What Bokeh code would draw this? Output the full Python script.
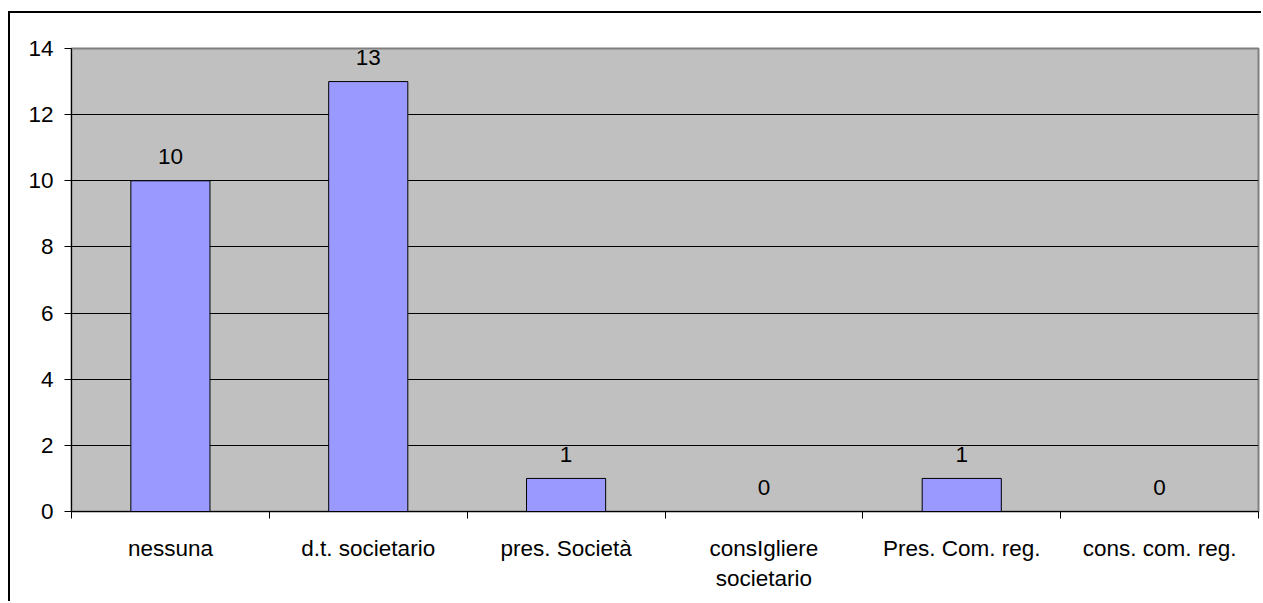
from bokeh.plotting import figure
from bokeh.models import Range1d, FixedTicker, LinearAxis, ColumnDataSource, Grid
from bokeh.embed import file_html
from bokeh.resources import INLINE
from bokeh.core.properties import value

categories = ["nessuna", "d.t. societario", "pres. Società", "consIgliere\nsocietario",
              "Pres. Com. reg.", "cons. com. reg."]
counts = [10, 13, 1, 0, 1, 0]
y_ticks = [0, 2, 4, 6, 8, 10, 12, 14]

FONT = "Liberation Sans"
FS = "22.5px"

pos = [i + 0.5 for i in range(len(categories))]
src = ColumnDataSource(dict(x=pos, top=counts, label=[str(c) for c in counts]))

p = figure(width=1253, height=590, output_backend="svg", toolbar_location=None,
           x_range=Range1d(0, len(categories)), y_range=Range1d(0, 14),
           x_axis_type=None, y_axis_type=None,
           min_border_left=61, min_border_right=5, min_border_top=35, min_border_bottom=92)
p.margin = (11, 0, 0, 8)
p.styles = {"border-left": "2px solid black", "border-top": "2px solid black"}

p.background_fill_color = "#C0C0C0"
p.border_fill_color = "white"
p.outline_line_color = "#808080"
p.outline_line_width = 2

# y axis
yaxis = LinearAxis(ticker=FixedTicker(ticks=y_ticks))
yaxis.axis_line_color = "black"
yaxis.axis_line_width = 1
yaxis.major_tick_out = 7
yaxis.major_tick_in = 0
yaxis.minor_tick_out = 0
yaxis.minor_tick_in = 0
yaxis.major_label_standoff = 11
yaxis.major_label_text_font = FONT
yaxis.major_label_text_font_size = FS
yaxis.major_label_text_color = "black"
p.add_layout(yaxis, "left")

# x axis: labels at centres, ticks at category boundaries
xaxis = LinearAxis(ticker=FixedTicker(ticks=pos, minor_ticks=list(range(len(categories) + 1))))
xaxis.major_label_overrides = {pv: c for pv, c in zip(pos, categories)}
xaxis.axis_line_color = "black"
xaxis.major_tick_out = 0
xaxis.major_tick_in = 0
xaxis.minor_tick_out = 7
xaxis.minor_tick_in = 0
xaxis.minor_tick_line_color = "black"
xaxis.major_label_standoff = 17
xaxis.major_label_text_font = FONT
xaxis.major_label_text_font_size = FS
xaxis.major_label_text_color = "black"
p.add_layout(xaxis, "below")

p.grid.visible = False
g = Grid(dimension=1, ticker=FixedTicker(ticks=[t for t in y_ticks if 0 < t < 14]))
g.grid_line_color = "black"
g.grid_line_width = 1
p.add_layout(g)

p.vbar(x="x", top="top", width=0.4, bottom=0, source=src,
       fill_color="#9999FF", line_color="black", line_width=1)

p.text(x="x", y="top", text="label", source=src, text_align="center",
       text_baseline="alphabetic", y_offset=-24,
       text_font=value(FONT), text_font_size=FS, text_color="black")

open("out.html", "w").write(file_html(p, INLINE))
